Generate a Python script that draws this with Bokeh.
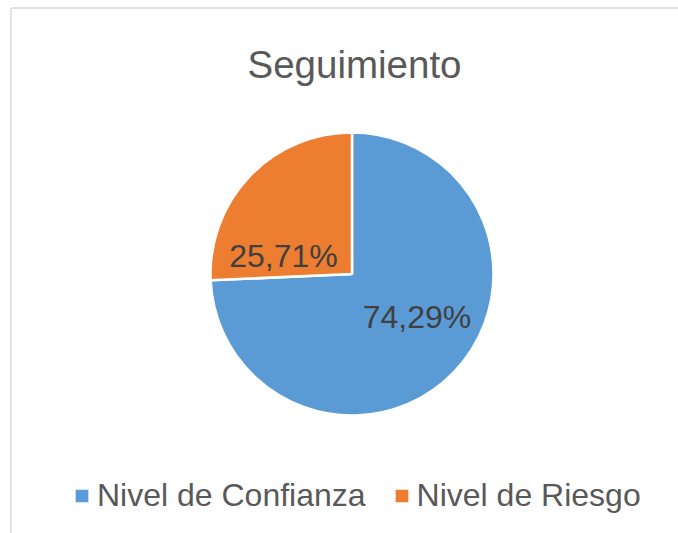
import math
from bokeh.plotting import figure
from bokeh.models import Range1d, Legend, LegendItem, ColumnDataSource
from bokeh.core.properties import value
from bokeh.embed import file_html
from bokeh.resources import INLINE

# ---- data ----
title_text = "Seguimiento"
categories = ["Nivel de Confianza", "Nivel de Riesgo"]
values = [74.29, 25.71]
labels = ["74,29%", "25,71%"]
colors = ["#5B9BD5", "#ED7D31"]

# ---- layout ----
W, H = 678, 533
CX, CY, R = 351.5, 259.5, 141.5
FONT = "Liberation Sans"
label_pos = [(416.5, 216.3), (283.0, 277.3)]

p = figure(width=W, height=H, output_backend="svg", toolbar_location=None,
           x_range=Range1d(0, W), y_range=Range1d(0, H), min_border=0,
           tools="")
p.axis.visible = False
p.grid.visible = False
p.outline_line_color = None
p.background_fill_color = "white"
p.border_fill_color = "white"

# chart border (top and left; right/bottom cropped in original)
p.segment(x0=[10.5, 10.5], y0=[525.5, 0], x1=[W, 10.5], y1=[525.5, 525.5],
          line_color="#D9D9D9", line_width=1.5)

# wedges: blue starts at 12 o'clock going clockwise, orange follows
total = sum(values)
a = math.pi / 2
ang0 = values[0] / total * 2 * math.pi
ang1 = values[1] / total * 2 * math.pi
starts = [a - ang0, a]
ends = [a, a + ang1]

src = ColumnDataSource(dict(cat=categories, val=values, start=starts, end=ends,
                            color=colors))
r = p.wedge(x=CX, y=CY, radius=R, start_angle="start", end_angle="end",
            fill_color="color", line_color="white", line_width=2.5, source=src)

# data labels
p.text(x=[pt[0] for pt in label_pos], y=[pt[1] for pt in label_pos], text=labels,
       text_font=value(FONT), text_font_size="32px", text_color="#404040",
       text_align="center", text_baseline="alphabetic")

# title
p.text(x=[354], y=[468.7], text=[title_text], text_font=value(FONT),
       text_font_size="38.5px", text_color="#595959", text_align="center",
       text_baseline="alphabetic")

legend = Legend(items=[LegendItem(label=categories[i], renderers=[r], index=i)
                       for i in range(len(categories))],
                orientation="horizontal", location=(72, 19),
                glyph_width=19, glyph_height=19, label_standoff=6, spacing=26,
                padding=0, margin=0, border_line_color=None,
                background_fill_alpha=0,
                label_text_font=FONT, label_text_font_size="32px",
                label_text_color="#595959", label_height=36)
p.add_layout(legend, "center")

open("out.html", "w").write(file_html(p, INLINE))
